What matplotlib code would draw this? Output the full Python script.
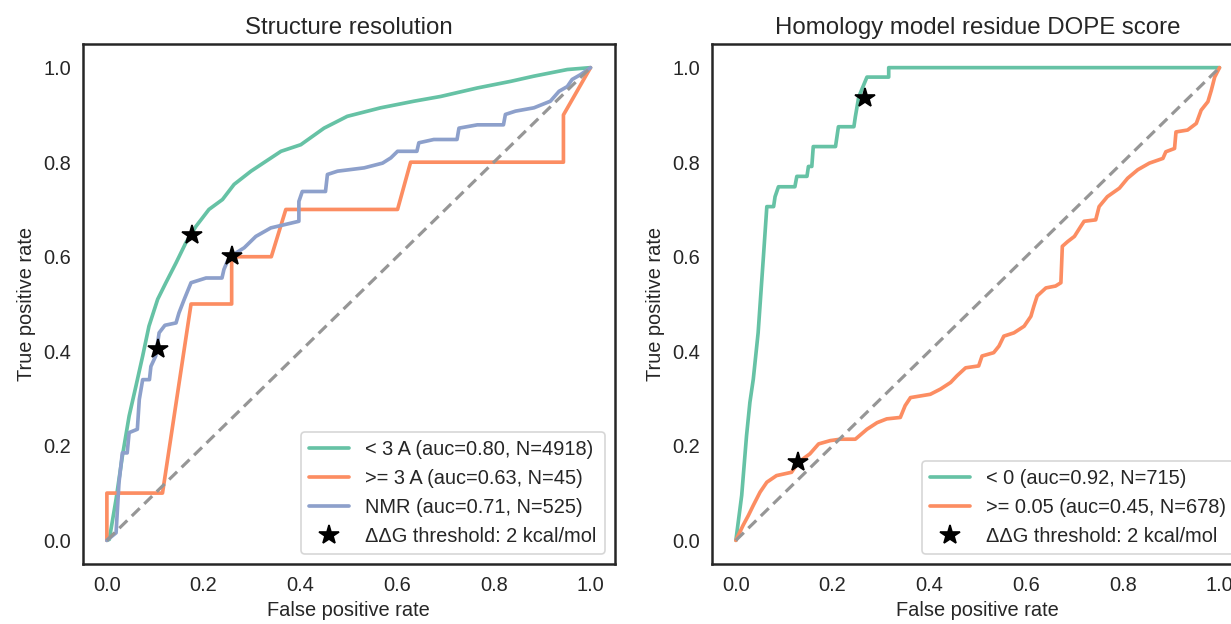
import matplotlib
matplotlib.use("Agg")
import matplotlib.pyplot as plt
import seaborn as sns

# ---- data ----
# left panel: structure resolution
res_lt3_fpr = [0.0, 0.005, 0.019, 0.032, 0.046, 0.060, 0.074, 0.087, 0.105, 0.122, 0.143, 0.163,
               0.184, 0.211, 0.239, 0.263, 0.298, 0.360, 0.401, 0.449, 0.497, 0.566, 0.635,
               0.690, 0.766, 0.835, 0.883, 0.952, 1.0]
res_lt3_tpr = [0.0, 0.002, 0.087, 0.178, 0.263, 0.326, 0.390, 0.453, 0.510, 0.545, 0.587, 0.629,
               0.664, 0.700, 0.721, 0.753, 0.781, 0.823, 0.837, 0.872, 0.897, 0.915, 0.929,
               0.939, 0.957, 0.971, 0.982, 0.996, 1.0]

res_ge3_fpr = [0.0, 0.0, 0.115, 0.174, 0.258, 0.258, 0.340, 0.370, 0.601, 0.628, 0.944, 0.944, 1.0]
res_ge3_tpr = [0.0, 0.1, 0.1, 0.5, 0.5, 0.6, 0.6, 0.7, 0.7, 0.8, 0.8, 0.9, 1.0]

nmr_fpr = [0.0, 0.019, 0.025, 0.032, 0.042, 0.046, 0.063, 0.067, 0.074, 0.088, 0.091, 0.101,
           0.108, 0.120, 0.143, 0.149, 0.160, 0.174, 0.205, 0.238, 0.242, 0.249, 0.267, 0.284,
           0.308, 0.339, 0.397, 0.397, 0.404, 0.452, 0.456, 0.477, 0.532, 0.570, 0.587, 0.601,
           0.641, 0.645, 0.676, 0.724, 0.728, 0.766, 0.820, 0.824, 0.845, 0.883, 0.917, 0.935,
           0.952, 0.962, 0.979, 1.0]
nmr_tpr = [0.0, 0.016, 0.122, 0.185, 0.185, 0.228, 0.235, 0.298, 0.340, 0.340, 0.368, 0.390,
           0.439, 0.455, 0.460, 0.481, 0.510, 0.545, 0.555, 0.555, 0.573, 0.590, 0.608, 0.619,
           0.643, 0.661, 0.675, 0.717, 0.738, 0.738, 0.774, 0.781, 0.788, 0.798, 0.809, 0.823,
           0.823, 0.841, 0.848, 0.848, 0.872, 0.879, 0.879, 0.901, 0.908, 0.915, 0.929, 0.950,
           0.960, 0.975, 0.985, 1.0]

res_labels = ["< 3 A (auc=0.80, N=4918)", ">= 3 A (auc=0.63, N=45)", "NMR (auc=0.71, N=525)"]
res_star_fpr = [0.177, 0.258, 0.105]
res_star_tpr = [0.647, 0.601, 0.404]

# right panel: homology model DOPE score
dope_neg_fpr = [0.0, 0.012, 0.022, 0.029, 0.036, 0.046, 0.057, 0.064, 0.078, 0.081, 0.088,
                0.122, 0.126, 0.147, 0.150, 0.157, 0.160, 0.206, 0.209, 0.212, 0.244, 0.247,
                0.254, 0.271, 0.316, 0.316, 1.0]
dope_neg_tpr = [0.0, 0.095, 0.221, 0.292, 0.341, 0.439, 0.601, 0.706, 0.706, 0.727, 0.748,
                0.748, 0.770, 0.770, 0.791, 0.791, 0.833, 0.833, 0.854, 0.875, 0.875, 0.896,
                0.938, 0.980, 0.980, 1.0, 1.0]

dope_pos_fpr = [0.0, 0.015, 0.026, 0.036, 0.050, 0.064, 0.084, 0.115, 0.129, 0.153, 0.171, 0.195,
                0.216, 0.247, 0.271, 0.292, 0.312, 0.340, 0.350, 0.361, 0.402, 0.423, 0.444,
                0.457, 0.475, 0.502, 0.509, 0.533, 0.544, 0.554, 0.575, 0.596, 0.610, 0.616,
                0.623, 0.641, 0.661, 0.672, 0.675, 0.686, 0.700, 0.713, 0.720, 0.744, 0.751,
                0.768, 0.793, 0.810, 0.831, 0.855, 0.883, 0.889, 0.907, 0.910, 0.934, 0.952,
                0.962, 0.976, 0.983, 0.990, 1.0]
dope_pos_tpr = [0.0, 0.032, 0.053, 0.074, 0.102, 0.123, 0.137, 0.144, 0.165, 0.183, 0.204, 0.211,
                0.214, 0.214, 0.235, 0.249, 0.257, 0.260, 0.285, 0.302, 0.309, 0.320, 0.334,
                0.348, 0.365, 0.369, 0.390, 0.397, 0.411, 0.432, 0.439, 0.453, 0.474, 0.495,
                0.517, 0.534, 0.538, 0.545, 0.622, 0.632, 0.643, 0.664, 0.675, 0.678, 0.706,
                0.727, 0.745, 0.766, 0.784, 0.798, 0.808, 0.822, 0.829, 0.864, 0.868, 0.882,
                0.910, 0.928, 0.952, 0.980, 1.0]

dope_labels = ["< 0 (auc=0.92, N=715)", ">= 0.05 (auc=0.45, N=678)"]
dope_star_fpr = [0.266, 0.128]
dope_star_tpr = [0.936, 0.166]

star_label = "\u0394\u0394G threshold: 2 kcal/mol"

sns.set_style("white")
plt.rcParams["font.family"] = ["Liberation Sans", "DejaVu Sans"]
colors = sns.color_palette("Set2")

fig = plt.figure(figsize=(1231 / 120, 624 / 120), dpi=120)
ax1 = fig.add_axes([82.7 / 1231, 60 / 624, 532 / 1231, 520 / 624])
ax2 = fig.add_axes([711.7 / 1231, 60 / 624, 532 / 1231, 520 / 624])


def draw_panel(ax, curves, labels, star_x, star_y, title):
    for (fpr, tpr), lab, c in zip(curves, labels, colors):
        ax.plot(fpr, tpr, color=c, lw=2.2, label=lab)
    ax.plot([0, 1], [0, 1], ls=(0, (3.5, 2)), color="#969696", lw=1.9)
    ax.plot(star_x, star_y, ls="none", marker="*", ms=12.5, color="black",
            label=star_label)
    ax.set_xlim(-0.05, 1.05)
    ax.set_ylim(-0.05, 1.05)
    ax.set_xticks([0, 0.2, 0.4, 0.6, 0.8, 1.0])
    ax.set_yticks([0, 0.2, 0.4, 0.6, 0.8, 1.0])
    ax.tick_params(labelsize=12)
    ax.set_xlabel("False positive rate", fontsize=12)
    ax.set_ylabel("True positive rate", fontsize=12)
    ax.set_title(title, fontsize=14.4)
    for sp in ax.spines.values():
        sp.set_linewidth(1.5)
        sp.set_color("#262626")
    ax.legend(loc="lower right", fontsize=12)


draw_panel(ax1,
           [(res_lt3_fpr, res_lt3_tpr), (res_ge3_fpr, res_ge3_tpr), (nmr_fpr, nmr_tpr)],
           res_labels, res_star_fpr, res_star_tpr, "Structure resolution")
draw_panel(ax2,
           [(dope_neg_fpr, dope_neg_tpr), (dope_pos_fpr, dope_pos_tpr)],
           dope_labels, dope_star_fpr, dope_star_tpr, "Homology model residue DOPE score")

fig.savefig("out.png", dpi=120)
